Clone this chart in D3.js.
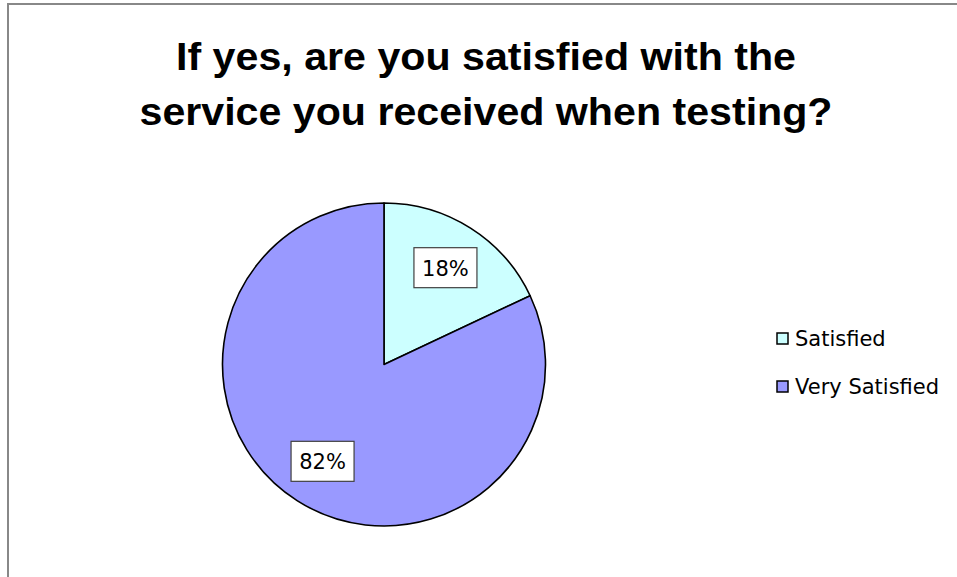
<!DOCTYPE html>
<html>
<head>
<meta charset="utf-8">
<script src="https://cdn.jsdelivr.net/npm/d3@7"></script>
<style>
  html, body { margin: 0; padding: 0; background: #fff; }
  svg { display: block; }
</style>
</head>
<body>
<svg id="chart" width="957" height="577"></svg>
<script>
// Survey answers and their shares (percent)
const categories = ["Satisfied", "Very Satisfied"];
const shares = [18, 82];
const sliceColors = ["#CCFFFF", "#9999FF"];
const titleLines = ["If yes, are you satisfied with the", "service you received when testing?"];

const svg = d3.select("#chart");
const W = 957, H = 577;

// chart frame (runs past the right and bottom edges of the page)
svg.append("rect")
  .attr("x", 8).attr("y", 4)
  .attr("width", W + 20).attr("height", H + 20)
  .attr("fill", "#fff")
  .attr("stroke", "#888")
  .attr("stroke-width", 2);

// title
const titleWidths = [620, 693];
const title = svg.append("g").attr("font-family", "'Liberation Sans', Arial, sans-serif")
  .attr("font-weight", "bold").attr("font-size", 38).attr("fill", "#000");
titleLines.forEach((t, i) => {
  title.append("text")
    .attr("x", 486).attr("y", 70 + i * 55)
    .attr("text-anchor", "middle")
    .attr("textLength", titleWidths[i])
    .attr("lengthAdjust", "spacingAndGlyphs")
    .text(t);
});

// pie
const cx = 384, cy = 364.5, R = 161.5;
const data = categories.map((c, i) => ({ cat: c, value: shares[i], color: sliceColors[i] }));
const pie = d3.pie().value(d => d.value).sort(null);
const arc = d3.arc().innerRadius(0).outerRadius(R);
const arcs = pie(data);

const g = svg.append("g").attr("transform", `translate(${cx},${cy})`);
g.selectAll("path.slice")
  .data(arcs)
  .join("path")
  .attr("class", "slice")
  .attr("d", arc)
  .attr("fill", d => d.data.color)
  .attr("stroke", "#000")
  .attr("stroke-width", 1.6)
  .attr("stroke-linejoin", "round");

// percentage labels in boxes
const labelArc = d3.arc().innerRadius(R * 0.71).outerRadius(R * 0.71);
const fmt = d => d3.format(".0f")(d) + "%";
const labels = g.selectAll("g.lbl")
  .data(arcs)
  .join("g")
  .attr("class", "lbl")
  .attr("transform", d => {
    const [x, y] = labelArc.centroid(d);
    return `translate(${x},${y})`;
  });
labels.append("rect")
  .attr("x", -31.5).attr("y", -20)
  .attr("width", 63).attr("height", 40)
  .attr("fill", "#fff")
  .attr("stroke", "#404040")
  .attr("stroke-width", 1.2);
labels.append("text")
  .attr("text-anchor", "middle")
  .attr("y", 8)
  .attr("font-family", "'DejaVu Sans', sans-serif")
  .attr("font-size", 21)
  .attr("fill", "#000")
  .text(d => fmt(d.data.value));

// legend
const legend = svg.append("g").attr("transform", "translate(777,333)");
const items = legend.selectAll("g.item")
  .data(data)
  .join("g")
  .attr("class", "item")
  .attr("transform", (d, i) => `translate(0,${i * 48})`);
items.append("rect")
  .attr("x", 0).attr("y", 0)
  .attr("width", 11).attr("height", 11)
  .attr("fill", d => d.color)
  .attr("stroke", "#000")
  .attr("stroke-width", 1.5);
items.append("text")
  .attr("x", 18).attr("y", 13)
  .attr("font-family", "'DejaVu Sans', sans-serif")
  .attr("font-size", 21)
  .attr("fill", "#000")
  .text(d => d.cat);
</script>
</body>
</html>
